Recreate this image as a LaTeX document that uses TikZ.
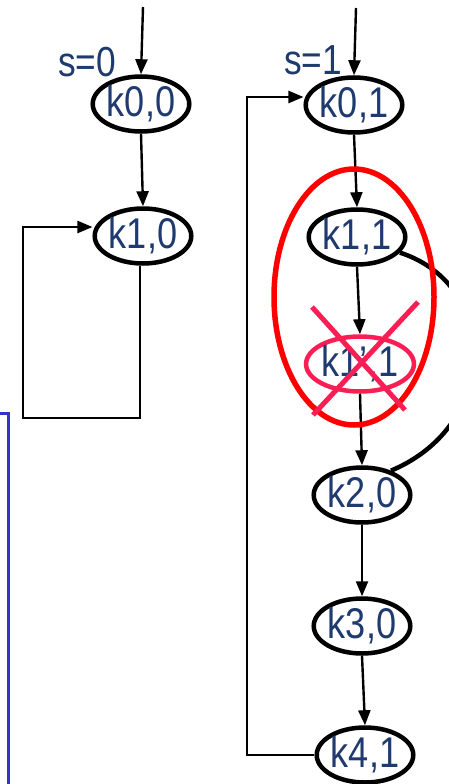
\documentclass[tikz,border=0pt]{standalone}
\usepackage{fontspec}
\newfontfamily\lab[FakeStretch=0.84]{Liberation Sans}
\usetikzlibrary{shapes.geometric,arrows.meta}
\definecolor{txt}{RGB}{31,58,110}
\definecolor{xpink}{RGB}{250,30,85}
\definecolor{bline}{RGB}{51,51,204}
\tikzset{
  st/.style={ellipse, draw=black, line width=4.5pt, inner sep=0pt,
    minimum width=91pt, minimum height=55pt, text=txt,
    font=\lab\fontsize{43}{45}\selectfont},
  lbl/.style={text=txt, inner sep=0pt, font=\lab\fontsize{42}{44}\selectfont},
  arr/.style={line width=2.4pt, -{Triangle[length=15pt,width=12pt]}},
  ln/.style={line width=2.4pt}
}
\begin{document}
\begin{tikzpicture}[x=1pt,y=-1pt]
\useasboundingbox (0,0) rectangle (449,784);
\clip (0,0) rectangle (449,784);
% left column
\node[lbl] (s0) at (87,62) {s=0};
\node[st] (k00) at (141,104) {k0,0};
\node[st] (k10) at (143,236) {k1,0};
\coordinate (t0) at (143,7);
\draw[arr] (t0) -- (k00.north);
\draw[arr] (k00.south) -- (k10.north);
\coordinate (lb) at (23,418);
\coordinate (lt) at (23,227);
\draw[arr] ([xshift=-3pt]k10.south) |- (lb) -- (lt) -- (lt -| k10.west);
% blue partial frame
\coordinate (b0) at (-3,413);
\coordinate (b1) at (8,413);
\coordinate (b2) at (8,790);
\draw[bline, line width=3pt] (b0) -- (b1) -- (b2);
% right column
\node[lbl] (s1) at (313,60) {s=1};
\node[st] (k01) at (354,105) {k0,1};
\node[st] (k11) at (357,237) {k1,1};
\node[st, draw=xpink] (k1p) at (360,364) {k1’,1};
\node[st] (k20) at (362,495) {k2,0};
\node[st] (k30) at (362,626) {k3,0};
\node[st] (k41) at (365,755) {k4,1};
\coordinate (t1) at (356,8);
\draw[arr] (t1) -- (k01.north);
\draw[arr] (k01.south) -- (k11.north);
\draw[arr] (k11.south) -- (k1p.north);
\draw[arr] (k1p.south) -- (k20.north);
\draw[arr] (k20.south) -- (k30.north);
\draw[arr] (k30.south) -- (k41.north);
\coordinate (rb) at (247,755);
\coordinate (rt) at (247,97);
\draw[arr] (k41.west) -- (rb) -- (rt) -- (rt -| k01.west);
% curve k1,1 -> k2,0
\draw[line width=4.5pt] (k11.-20) .. controls (500,285) and (500,425) .. (k20.40);
% red grouping ellipse
\draw[red, line width=5.5pt] (354,297) ellipse [x radius=80pt, y radius=128pt];
% cross
\coordinate (xa) at (312,307);
\coordinate (xb) at (405,410);
\coordinate (xc) at (418,302);
\coordinate (xd) at (313,415);
\draw[xpink, line width=5pt] (xa) -- (xb);
\draw[xpink, line width=5pt] (xc) -- (xd);
\end{tikzpicture}
\end{document}
